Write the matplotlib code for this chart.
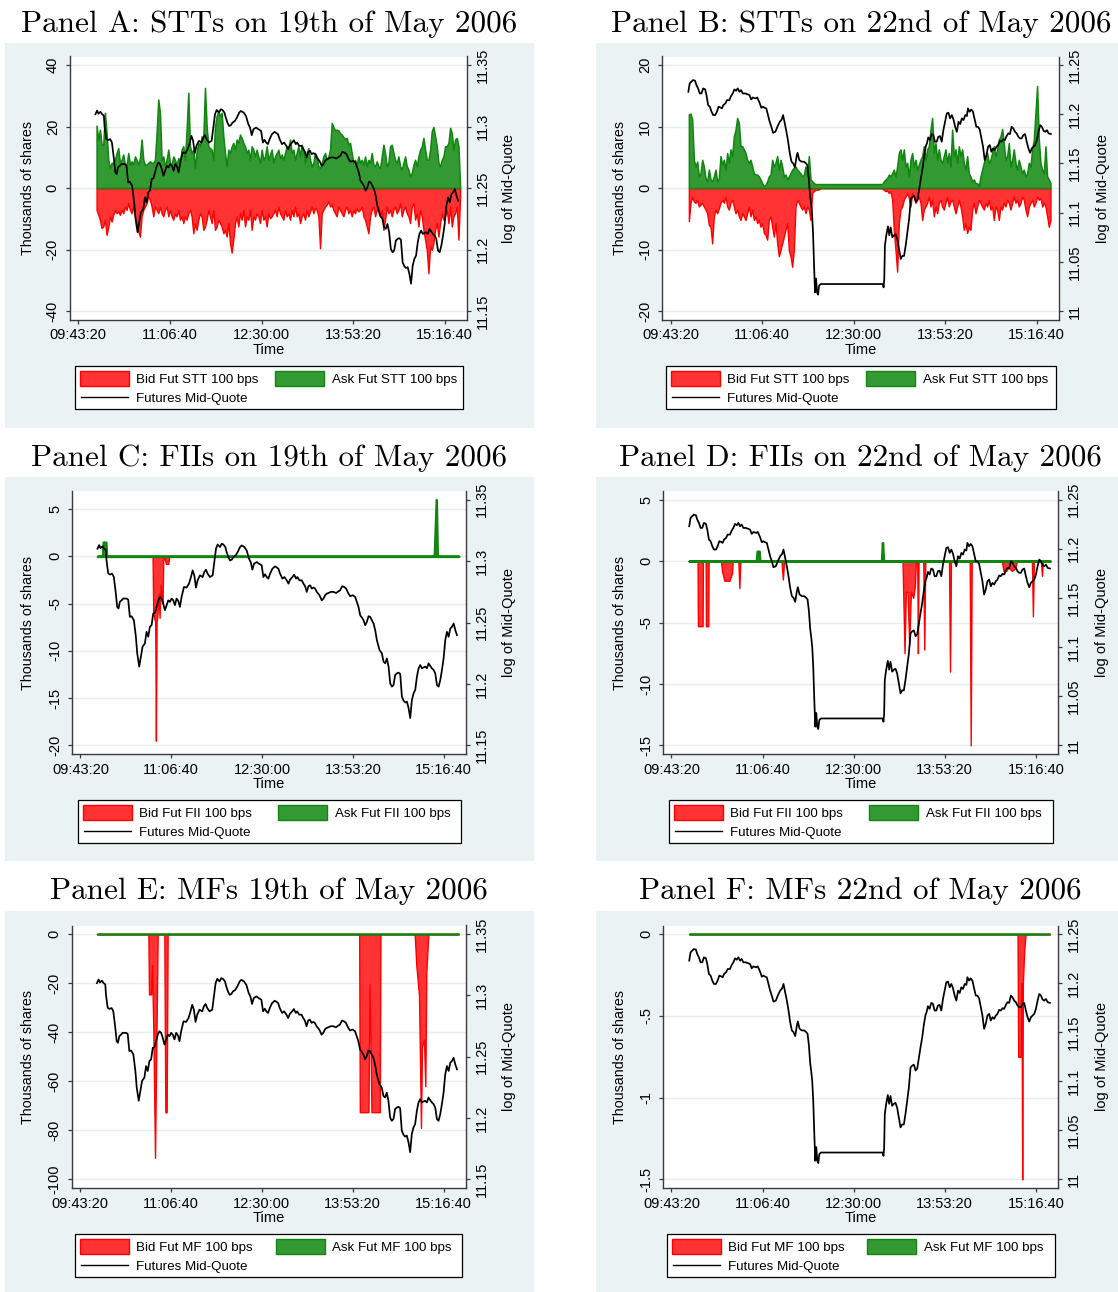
import numpy as np
import matplotlib
matplotlib.use("Agg")
import matplotlib.pyplot as plt
from matplotlib.patches import Rectangle
from matplotlib.lines import Line2D
from matplotlib.ticker import FixedLocator, FuncFormatter

plt.rcParams['axes.unicode_minus'] = False

# ---------------------------------------------------------------- data
# time = seconds after midnight; mid-quote = log of futures mid-quote
MID19_T = [35937, 36029, 36103, 36213, 36305, 36397, 36434, 36526, 36617, 36746,
           36838, 36948, 37022, 37095, 37169, 37261, 37353, 37536, 37628, 37720,
           37812, 37941, 38051, 38125, 38235, 38327, 38419, 38547, 38639, 38731,
           38823, 38915, 39007, 39099, 39191, 39283, 39374, 39466, 39558, 39650,
           39742, 39834, 39926, 40018, 40110, 40202, 40293, 40385, 40477, 40569,
           40698, 40845, 40974, 41084, 41176, 41268, 41359, 41451, 41580, 41727,
           41819, 41911, 42003, 42131, 42278, 42370, 42462, 42554, 42683, 42775,
           42867, 42977, 43050, 43142, 43234, 43326, 43418, 43547, 43657, 43786,
           43878, 44025, 44153, 44282, 44374, 44466, 44558, 44705, 44833, 44980,
           45072, 45164, 45256, 45348, 45440, 45569, 45716, 45899, 45991, 46120,
           46230, 46359, 46451, 46543, 46671, 46763, 46873, 46947, 47057, 47186,
           47278, 47370, 47462, 47554, 47645, 47737, 47829, 47921, 48013, 48160,
           48289, 48381, 48473, 48564, 48656, 48785, 48932, 49079, 49208, 49300,
           49410, 49520, 49630, 49759, 49851, 49998, 50127, 50219, 50311, 50402,
           50494, 50586, 50678, 50770, 50862, 50954, 51046, 51138, 51230, 51321,
           51468, 51597, 51689, 51781, 51873, 51965, 52057, 52149, 52240, 52332,
           52424, 52516, 52608, 52700, 52792, 52884, 52976, 53068, 53159, 53251,
           53343, 53435, 53527, 53619, 53711, 53803, 53895, 53987, 54078, 54170,
           54262, 54354, 54446, 54538, 54630, 54722, 54814, 54906, 54997, 55089,
           55181, 55273, 55365, 55457, 55549, 55641, 55733]
MID19_V = [11.310, 11.313, 11.3105, 11.312, 11.310, 11.309, 11.3005, 11.290, 11.289, 11.2897,
           11.287, 11.2735, 11.2627, 11.2614, 11.2668, 11.268, 11.2695, 11.2695, 11.2686, 11.2546,
           11.2551, 11.2519, 11.2384, 11.2249, 11.2141, 11.2222, 11.2303, 11.233, 11.2424, 11.2384,
           11.2465, 11.2478, 11.2573, 11.2578, 11.2627, 11.268, 11.2708, 11.2695, 11.2654, 11.260,
           11.2641, 11.268, 11.2668, 11.2695, 11.268, 11.2641, 11.2695, 11.2676, 11.2627, 11.2708,
           11.2789, 11.2784, 11.2816, 11.287, 11.2924, 11.2884, 11.2784, 11.2843, 11.2884, 11.287,
           11.2911, 11.293, 11.2897, 11.287, 11.2884, 11.2992, 11.310, 11.3135, 11.3114, 11.3141,
           11.3135, 11.3114, 11.3073, 11.3032, 11.3005, 11.3011, 11.3032, 11.3046, 11.3073, 11.3114,
           11.3127, 11.3114, 11.3086, 11.3019, 11.2992, 11.293, 11.2978, 11.2992, 11.2978, 11.2965,
           11.287, 11.2892, 11.287, 11.2857, 11.2897, 11.2938, 11.2957, 11.2938, 11.2897, 11.2857,
           11.287, 11.2843, 11.2816, 11.2849, 11.287, 11.2889, 11.2857, 11.287, 11.2843, 11.2843,
           11.2816, 11.2795, 11.2749, 11.2795, 11.2803, 11.2776, 11.2784, 11.2776, 11.2749, 11.2722,
           11.268, 11.2695, 11.2722, 11.2735, 11.274, 11.2749, 11.2749, 11.274, 11.2754, 11.2762,
           11.2795, 11.2789, 11.2776, 11.2735, 11.2714, 11.2722, 11.2708, 11.2668, 11.2627, 11.2559,
           11.2541, 11.2519, 11.2478, 11.2505, 11.2551, 11.2546, 11.2519, 11.2492, 11.2438, 11.2357,
           11.2276, 11.2249, 11.2181, 11.2168, 11.2208, 11.2141, 11.2005, 11.1978, 11.1992, 11.2073,
           11.2086, 11.2092, 11.2081, 11.1897, 11.1865, 11.1849, 11.1857, 11.1803, 11.1722, 11.187,
           11.1924, 11.1951, 11.2059, 11.2127, 11.2154, 11.2127, 11.2135, 11.2141, 11.2127, 11.2168,
           11.2146, 11.2127, 11.2114, 11.2086, 11.1992, 11.1978, 11.2032, 11.2114, 11.2208, 11.2357,
           11.2424, 11.2384, 11.2451, 11.2465, 11.2492, 11.2438, 11.2397]

MID22_T = [35973, 36046, 36138, 36229, 36340, 36413, 36505, 36596, 36688, 36780,
           36890, 36963, 37055, 37147, 37239, 37330, 37441, 37532, 37624, 37716,
           37808, 37881, 37991, 38083, 38211, 38303, 38395, 38487, 38578, 38670,
           38762, 38854, 38945, 39074, 39184, 39312, 39404, 39496, 39643, 39734,
           39863, 39955, 40046, 40138, 40230, 40322, 40413, 40505, 40597, 40725,
           40835, 40964, 41074, 41147, 41239, 41331, 41423, 41514, 41606, 41698,
           41790, 41881, 41936, 42028, 42157, 42285, 42395, 42468, 42542, 42615,
           42670, 42725, 42780, 42835, 42891, 42946, 43001, 43056, 43111, 43202,
           46597, 46634, 46671, 46707, 46781, 46872, 46946, 47019, 47111, 47203,
           47295, 47386, 47478, 47570, 47662, 47753, 47845, 47937, 48029, 48120,
           48212, 48304, 48396, 48487, 48579, 48671, 48763, 48854, 48946, 49001,
           49074, 49166, 49258, 49350, 49441, 49533, 49625, 49717, 49808, 49900,
           49992, 50084, 50175, 50267, 50359, 50451, 50542, 50634, 50726, 50818,
           50909, 51001, 51093, 51185, 51240, 51332, 51423, 51515, 51607, 51699,
           51790, 51882, 51974, 52066, 52157, 52249, 52341, 52433, 52524, 52616,
           52708, 52800, 52891, 52983, 53075, 53167, 53258, 53350, 53442, 53534,
           53625, 53717, 53809, 53901, 53992, 54084, 54176, 54268, 54359, 54451,
           54543, 54635, 54726, 54818, 54910, 55002, 55093, 55185, 55277, 55369,
           55460, 55552, 55644, 55772]
MID22_V = [11.2229, 11.2314, 11.2331, 11.2348, 11.2341, 11.2297, 11.2263, 11.2212, 11.2212, 11.2263,
           11.2253, 11.2195, 11.2093, 11.2077, 11.2026, 11.1992, 11.1992, 11.2026, 11.2077, 11.207,
           11.206, 11.2093, 11.211, 11.2144, 11.2144, 11.2185, 11.2212, 11.2253, 11.2239, 11.2263,
           11.2229, 11.2246, 11.2212, 11.2212, 11.2205, 11.2195, 11.2151, 11.2171, 11.2161, 11.2171,
           11.2117, 11.2066, 11.2077, 11.2066, 11.206, 11.1992, 11.1924, 11.1873, 11.1812, 11.1822,
           11.1873, 11.1924, 11.1948, 11.1992, 11.1907, 11.1822, 11.1721, 11.1602, 11.1518, 11.1501,
           11.146, 11.1568, 11.1609, 11.1535, 11.1518, 11.1518, 11.1501, 11.1484, 11.1365, 11.118,
           11.110, 11.100, 11.080, 11.048, 11.019, 11.033, 11.019, 11.0166, 11.0257, 11.0274,
           11.0274, 11.024, 11.032, 11.0666, 11.0768, 11.086, 11.077, 11.085, 11.075, 11.077,
           11.078, 11.073, 11.063, 11.053, 11.056, 11.056, 11.067, 11.080, 11.0937, 11.114,
           11.116, 11.117, 11.111, 11.113, 11.124, 11.135, 11.145, 11.158, 11.168, 11.1704,
           11.1765, 11.1738, 11.1799, 11.1789, 11.1721, 11.1721, 11.1772, 11.1778, 11.1721, 11.1839,
           11.1924, 11.2009, 11.2016, 11.1958, 11.1992, 11.1948, 11.1873, 11.1822, 11.1924, 11.190,
           11.1958, 11.1941, 11.1992, 11.1982, 11.206, 11.2026, 11.2049, 11.2026, 11.1948, 11.1873,
           11.1873, 11.1846, 11.1755, 11.167, 11.1535, 11.1585, 11.167, 11.1687, 11.1619, 11.1653,
           11.1636, 11.167, 11.1687, 11.1728, 11.1721, 11.1745, 11.1738, 11.1778, 11.1806, 11.1799,
           11.1873, 11.1856, 11.1822, 11.1806, 11.1772, 11.1755, 11.1755, 11.1789, 11.1799, 11.1721,
           11.1653, 11.1609, 11.1653, 11.167, 11.1687, 11.1738, 11.1822, 11.189, 11.1873, 11.1833,
           11.1822, 11.1839, 11.1806, 11.1799]

# STT order-book depth (thousands of shares), observed on a fixed grid
STT_GRID_START = 36000   # 10:00:00
STT_GRID_STEP = 91       # seconds between observations
STT19_ASK = [20.3, 15.8, 19.0, 14.1, 14.1, 24.5, 17.9, 9.2, 6.5, 8.2,
             8.2, 9.2, 11.4, 13.0, 8.2, 9.2, 10.9, 7.6, 7.6, 11.4,
             7.6, 8.7, 7.6, 10.3, 9.2, 7.6, 9.8, 15.8, 9.2, 7.6,
             7.6, 8.2, 8.7, 8.2, 8.2, 9.2, 17.9, 28.8, 24.5, 9.2,
             10.3, 7.1, 9.2, 12.5, 8.2, 7.6, 10.3, 9.2, 7.6, 9.8,
             8.2, 12.5, 13.6, 9.2, 19.0, 31.0, 13.6, 11.4, 12.5, 6.5,
             12.0, 14.7, 13.6, 16.8, 16.3, 32.6, 20.1, 13.6, 13.0, 12.5,
             9.2, 20.1, 23.4, 25.0, 23.4, 24.5, 16.8, 11.4, 7.1, 12.5,
             11.4, 13.6, 14.7, 12.5, 15.8, 14.7, 17.4, 16.3, 14.7, 13.6,
             11.4, 12.5, 9.2, 13.6, 12.5, 10.3, 12.5, 10.3, 8.2, 12.5,
             9.2, 10.3, 13.6, 9.2, 10.9, 12.5, 8.2, 10.3, 11.4, 12.5,
             9.8, 10.9, 9.2, 11.4, 13.6, 12.5, 15.8, 11.4, 12.5, 9.2,
             11.4, 13.6, 10.3, 14.1, 12.5, 8.2, 11.4, 13.0, 9.2, 7.1,
             8.2, 11.4, 10.3, 7.1, 6.5, 8.2, 10.3, 11.4, 9.2, 10.3,
             12.5, 21.2, 19.9, 18.8, 19.0, 18.8, 17.9, 17.4, 16.6, 16.0,
             16.3, 14.1, 14.7, 11.4, 8.2, 9.2, 7.6, 10.3, 8.2, 9.2,
             7.6, 10.3, 7.1, 9.2, 8.2, 11.4, 7.6, 7.1, 8.7, 7.1,
             6.5, 10.3, 14.1, 11.4, 7.1, 8.2, 13.6, 14.1, 11.4, 9.2,
             8.2, 10.3, 7.1, 6.0, 8.2, 10.3, 7.1, 6.0, 3.8, 4.9,
             7.6, 9.2, 7.1, 10.3, 12.5, 13.6, 16.3, 12.5, 9.2, 9.2,
             12.5, 18.5, 19.9, 16.8, 13.6, 8.2, 7.1, 9.2, 10.3, 13.6,
             13.6, 14.7, 19.6, 17.9, 12.5, 15.8, 16.3, 13.6, 0.5]
STT19_BID = [-7.1, -8.7, -10.3, -13.0, -12.5, -10.3, -15.2, -12.7, -9.2, -10.9,
             -8.7, -7.1, -8.2, -7.6, -8.7, -7.1, -8.2, -6.0, -7.1, -4.9,
             -7.1, -8.2, -6.0, -9.2, -11.4, -14.1, -15.8, -9.2, -7.1, -6.0,
             -4.9, -2.7, -3.8, -6.0, -9.2, -6.0, -7.1, -8.2, -6.0, -8.2,
             -9.2, -7.1, -6.0, -9.2, -7.1, -9.2, -10.3, -8.2, -9.2, -7.1,
             -10.3, -9.2, -11.4, -9.2, -10.3, -8.2, -7.1, -9.2, -14.7, -11.4,
             -13.6, -10.3, -8.2, -9.2, -13.6, -12.5, -10.3, -7.1, -9.2, -11.4,
             -7.1, -13.6, -12.5, -10.3, -11.4, -12.5, -14.7, -13.6, -15.8, -11.4,
             -17.9, -21.0, -16.8, -11.4, -9.2, -12.5, -8.2, -10.3, -7.1, -12.5,
             -9.2, -10.3, -7.1, -13.6, -9.2, -10.3, -8.2, -9.2, -11.4, -7.1,
             -10.3, -9.2, -12.5, -8.2, -9.8, -9.2, -8.2, -7.1, -9.2, -6.0,
             -8.2, -9.2, -10.3, -7.1, -9.2, -8.2, -10.3, -7.1, -9.2, -6.0,
             -9.2, -8.2, -11.4, -9.2, -8.2, -10.3, -7.1, -9.2, -7.6, -6.0,
             -8.2, -6.5, -7.1, -9.2, -19.6, -8.2, -7.1, -6.0, -5.4, -4.3,
             -6.0, -5.4, -7.1, -8.2, -9.2, -6.0, -7.1, -8.2, -9.2, -7.1,
             -6.0, -8.2, -7.1, -9.2, -7.1, -8.2, -6.5, -7.6, -7.1, -6.0,
             -9.2, -10.3, -12.5, -14.7, -9.2, -7.1, -6.0, -9.2, -7.1, -6.0,
             -9.2, -7.1, -13.6, -10.3, -6.0, -8.2, -7.1, -9.2, -7.1, -6.0,
             -8.2, -7.1, -4.9, -9.2, -7.1, -6.0, -8.2, -9.2, -11.4, -6.0,
             -4.9, -10.3, -8.2, -12.5, -7.1, -9.2, -13.6, -16.8, -20.1, -27.7,
             -19.0, -20.1, -17.9, -13.6, -11.4, -15.8, -11.4, -8.2, -10.3, -9.2,
             -7.1, -11.4, -6.0, -12.5, -9.2, -8.2, -6.0, -16.8, -2.7]
STT22_ASK = [12.0, 12.1, 11.1, 4.6, 3.5, 4.3, 1.9, 2.4, 4.6, 3.5,
             1.6, 1.1, 3.0, 1.4, 1.1, 1.9, 3.0, 1.1, 1.6, 5.2,
             3.8, 4.6, 3.0, 5.7, 4.1, 6.3, 5.2, 8.4, 9.5, 11.4,
             10.6, 6.8, 6.8, 6.3, 5.7, 4.6, 4.1, 4.6, 3.5, 2.4,
             2.2, 2.2, 1.9, 1.4, 0.8, 0.3, 0.5, 1.1, 1.9, 2.2,
             4.6, 3.5, 4.1, 5.2, 3.0, 4.6, 3.5, 1.9, 2.2, 1.4,
             1.9, 2.4, 3.0, 3.3, 3.5, 3.0, 2.7, 2.4, 1.9, 2.2,
             3.5, 1.9, 5.2, 1.4, 1.1, 0.8, 0.65, 0.65, 0.65, 0.65,
             0.65, 0.65, 0.65, 0.65, 0.65, 0.65, 0.65, 0.65, 0.65, 0.65,
             0.65, 0.65, 0.65, 0.65, 0.65, 0.65, 0.65, 0.65, 0.65, 0.65,
             0.65, 0.65, 0.65, 0.65, 0.65, 0.65, 0.65, 0.65, 0.65, 0.65,
             0.65, 0.65, 0.65, 0.65, 0.65, 0.65, 0.65, 1.1, 1.4, 1.6,
             2.2, 1.9, 2.4, 3.0, 1.9, 3.5, 5.7, 6.3, 4.6, 6.3,
             3.5, 4.1, 1.9, 4.6, 5.7, 3.5, 4.6, 3.0, 3.8, 4.6,
             5.2, 6.8, 4.6, 6.3, 6.8, 9.5, 11.4, 5.7, 7.3, 4.6,
             6.3, 4.6, 4.1, 5.2, 6.3, 4.1, 5.7, 3.5, 9.5, 5.2,
             6.3, 4.1, 6.8, 5.2, 6.3, 4.1, 3.0, 5.2, 2.4, 1.9,
             1.1, 1.4, 0.8, 0.8, 0.3, 1.9, 3.0, 4.1, 5.2, 5.7,
             4.1, 4.6, 5.7, 6.8, 5.2, 6.3, 7.9, 8.4, 9.6, 7.3,
             4.6, 5.2, 7.3, 3.5, 4.6, 6.3, 4.1, 3.0, 4.6, 3.5,
             2.4, 3.0, 1.9, 2.4, 4.1, 3.5, 6.3, 7.9, 12.2, 16.6,
             7.9, 4.1, 3.0, 2.4, 6.8, 1.9, 1.4, 0.8]
STT22_BID = [-5.4, -2.4, -1.4, -2.2, -2.4, -1.9, -3.0, -2.7, -2.4, -3.0,
             -3.5, -4.1, -6.0, -6.3, -9.0, -4.6, -3.5, -4.1, -3.3, -2.4,
             -1.9, -2.4, -1.4, -3.0, -3.5, -2.4, -1.9, -3.0, -4.1, -3.5,
             -4.6, -5.2, -4.1, -4.6, -5.2, -4.1, -3.0, -4.6, -3.5, -5.2,
             -4.6, -5.7, -5.2, -6.3, -5.7, -7.3, -7.6, -8.4, -5.2, -4.6,
             -6.3, -7.9, -5.7, -9.0, -11.1, -10.1, -9.0, -7.9, -6.8, -5.7,
             -10.1, -11.1, -12.8, -10.1, -3.0, -1.9, -2.4, -3.0, -3.5, -3.0,
             -4.1, -3.0, -3.5, -5.2, -0.8, -0.5, -0.3, -0.3, -0.2, 0.0,
             0.0, 0.0, 0.0, 0.0, 0.0, 0.0, 0.0, 0.0, 0.0, 0.0,
             0.0, 0.0, 0.0, 0.0, 0.0, 0.0, 0.0, 0.0, 0.0, 0.0,
             0.0, 0.0, 0.0, 0.0, 0.0, 0.0, 0.0, 0.0, 0.0, 0.0,
             0.0, 0.0, 0.0, 0.0, 0.0, 0.0, 0.0, -0.3, -0.5, -0.4,
             -0.8, -0.5, -1.9, -6.8, -10.1, -13.6, -5.7, -3.5, -3.0, -1.9,
             -1.4, -0.8, -1.6, -3.0, -0.8, -1.4, -2.4, -1.9, -1.4, -2.4,
             -5.2, -3.5, -3.0, -2.4, -1.4, -3.0, -1.9, -4.6, -3.0, -4.1,
             -2.4, -1.9, -3.0, -3.5, -2.4, -1.4, -3.0, -2.2, -1.9, -3.0,
             -4.1, -3.0, -1.9, -3.0, -4.6, -6.8, -5.7, -7.3, -6.3, -6.8,
             -3.5, -2.4, -4.1, -3.0, -1.9, -2.4, -3.0, -3.5, -2.4, -3.0,
             -1.9, -3.5, -3.0, -5.2, -3.0, -3.5, -5.2, -3.0, -3.5, -2.4,
             -3.0, -1.9, -2.4, -3.5, -2.4, -1.4, -2.4, -1.9, -3.0, -2.4,
             -1.4, -1.9, -3.5, -4.6, -3.0, -2.4, -1.9, -3.0, -2.4, -1.4,
             -1.9, -1.6, -3.0, -2.4, -3.0, -4.6, -6.3, -5.2]

# FII order-book depth (thousands of shares)
FII19_BID_T = [35937, 38970, 39007, 39062, 39117, 39154, 39191, 39246, 39301, 39356,
               39411, 39466, 39521, 39558, 39613, 39705, 39834, 39889, 55825]
FII19_BID_V = [0, 0, -6.0, -6.5, -7.0, -19.5, -7.0, -6.0, -4.0, -6.5,
               -3.0, -4.5, -5.0, -0.5, 0, -0.8, -0.8, 0, 0]
FII19_ASK_T = [35937, 36213, 36250, 36397, 36434, 54483, 54593, 54648, 55825]
FII19_ASK_V = [0, 0, 1.5, 1.5, 0, 0, 6.0, 0, 0]
FII22_BID_T = [35973, 36431, 36450, 36707, 36725, 36872, 36890, 37019, 37037,
               37716, 37771, 37899, 38028, 38175, 38321, 38358,
               38670, 38725, 38780,
               41037, 41111, 41184,
               47680, 47790, 47863, 47955, 48047, 48139, 48267, 48359, 48414,
               48487, 48524, 48561,
               48818, 48873, 48928,
               50231, 50286, 50341,
               51368, 51423, 51478,
               53130, 53222, 53368, 53497, 53680, 53864, 53956,
               54781, 54836, 54890,
               55277, 55332, 55387, 55772]
FII22_BID_V = [0, 0, -5.3, -5.3, 0, 0, -5.3, -5.3, 0,
               0, -0.8, -1.6, -1.6, -1.6, -1.0, 0,
               0, -2.2, 0,
               0, -1.5, 0,
               0, -7.5, -2.5, -2.5, -6.8, -2.5, -3.0, -2.0, 0,
               0, -7.5, 0,
               0, -7.2, 0,
               0, -9.0, 0,
               0, -15.0, 0,
               0, -0.8, -0.8, -0.5, -0.8, -0.6, 0,
               0, -4.5, 0,
               0, -1.2, 0, 0]
FII22_ASK_T = [35973, 39660, 39700, 39810, 39845, 46525, 46580, 46635, 55772]
FII22_ASK_V = [0, 0, 0.8, 0.8, 0, 0, 1.5, 0, 0]

# MF order-book depth (thousands of shares)
MF19_BID_T = [35937, 38766, 38802, 38912, 38967, 39040, 39131, 39204, 39278,
              39643, 39698, 39771, 39826,
              50355, 50392, 50867, 50922, 50977, 51032, 51489, 51525,
              53408, 53499, 53646, 53755, 53810, 53920, 53993, 54048, 54157, 55825]
MF19_BID_V = [0, 0, -24.6, -24.6, -12.6, -40, -91.2, -45, 0,
              0, -72.6, -72.6, 0,
              0, -72.6, -72.6, -20.5, -41.5, -72.6, -72.6, 0,
              0, -12.8, -25, -79, -46, -43, -62, -15.5, 0, 0]
MF19_ASK_T = [35937, 55825]
MF19_ASK_V = [0, 0]
MF22_BID_T = [35973, 53992, 54029, 54176, 54212, 54249, 54286, 54359, 54432, 55772]
MF22_BID_V = [0, 0, -0.75, -0.75, -0.3, -1.5, -0.3, -0.1, 0, 0]
MF22_ASK_T = [35973, 55772]
MF22_ASK_V = [0, 0]

X_TICKS = [35000, 40000, 45000, 50000, 55000]
X_RANGE = (34550, 56230)
RIGHT_RANGE = {19: (11.15, 11.35), 22: (11.0, 11.25)}
RIGHT_TICKS = {19: [11.15, 11.2, 11.25, 11.3, 11.35],
               22: [11.0, 11.05, 11.1, 11.15, 11.2, 11.25]}

stt_t19 = STT_GRID_START + STT_GRID_STEP * np.arange(len(STT19_ASK))
stt_t22 = STT_GRID_START + STT_GRID_STEP * np.arange(len(STT22_ASK))

PANELS = [
    dict(key='A', title='Panel A: STTs on 19th of May 2006', day=19, grp='STT',
         bid=(stt_t19, STT19_BID), ask=(stt_t19, STT19_ASK),
         lrange=(-40, 40), lticks=[-40, -20, 0, 20, 40]),
    dict(key='B', title='Panel B: STTs on 22nd of May 2006', day=22, grp='STT',
         bid=(stt_t22, STT22_BID), ask=(stt_t22, STT22_ASK),
         lrange=(-20, 20), lticks=[-20, -10, 0, 10, 20]),
    dict(key='C', title='Panel C: FIIs on 19th of May 2006', day=19, grp='FII',
         bid=(FII19_BID_T, FII19_BID_V), ask=(FII19_ASK_T, FII19_ASK_V),
         lrange=(-20, 6), lticks=[-20, -15, -10, -5, 0, 5]),
    dict(key='D', title='Panel D: FIIs on 22nd of May 2006', day=22, grp='FII',
         bid=(FII22_BID_T, FII22_BID_V), ask=(FII22_ASK_T, FII22_ASK_V),
         lrange=(-15, 5), lticks=[-15, -10, -5, 0, 5]),
    dict(key='E', title='Panel E: MFs 19th of May 2006', day=19, grp='MF',
         bid=(MF19_BID_T, MF19_BID_V), ask=(MF19_ASK_T, MF19_ASK_V),
         lrange=(-100, 0), lticks=[-100, -80, -60, -40, -20, 0]),
    dict(key='F', title='Panel F: MFs 22nd of May 2006', day=22, grp='MF',
         bid=(MF22_BID_T, MF22_BID_V), ask=(MF22_ASK_T, MF22_ASK_V),
         lrange=(-1.5, 0), lticks=[-1.5, -1, -0.5, 0]),
]
MID = {19: (MID19_T, MID19_V), 22: (MID22_T, MID22_V)}

# ---------------------------------------------------------------- layout (pixels)
W, H = 1118, 1292
LAYOUT = {
    'A': dict(ax=(70, 467.3, 56.5, 319.6), bg=(5, 534, 43.3, 427.7), base=31.7, leg=366, lw=388),
    'B': dict(ax=(662.3, 1059.3, 56.5, 319.6), bg=(595.7, 1118, 43.3, 427.7), base=31.7, leg=366, lw=390),
    'C': dict(ax=(72.3, 466, 491, 754), bg=(5, 534, 477, 861), base=465.7, leg=800, lw=383),
    'D': dict(ax=(663.3, 1058.3, 491, 754), bg=(595.7, 1118, 477, 861), base=465.7, leg=800, lw=384),
    'E': dict(ax=(71.7, 466, 925.5, 1188), bg=(5, 534, 911, 1292), base=899.3, leg=1234, lw=387),
    'F': dict(ax=(663.3, 1058.3, 925.5, 1188), bg=(595.7, 1118, 911, 1292), base=899.3, leg=1234, lw=388),
}
YLAB_LEFT_X = {0: 35, 1: 627}
YLAB_RIGHT_X = {0: 502.5, 1: 1095.5}

BG = '#EAF2F3'
GRID = '#E3ECEE'
AXC = '#3a3a3a'
RED_FILL, RED_EDGE = '#FF3333', '#FF0000'
GREEN_FILL, GREEN_EDGE = '#339933', '#108510'
GREEN_LW = {'STT': 1.1, 'FII': 1.8, 'MF': 1.8}
SANS = ['Liberation Sans', 'DejaVu Sans']
SERIF = ['cmr10', 'DejaVu Serif']
TICK_FS = 10.5
LAB_FS = 10.5
LEG_FS = 9.6
TITLE_FS = 22.4


def fx(x):
    return x / W


def fy(y):
    return 1 - y / H


def stata_num(v, pos=None):
    s = f"{v:.10g}"
    if s.startswith('-0.'):
        s = '-' + s[2:]
    elif s.startswith('0.'):
        s = s[1:]
    return s


def clock(v, pos=None):
    v = int(round(v))
    return f"{v // 3600:02d}:{(v % 3600) // 60:02d}:{v % 60:02d}"


def padded(lo, hi, frac=0.035):
    p = (hi - lo) * frac
    return lo - p, hi + p


fig = plt.figure(figsize=(W / 100, H / 100), dpi=100)
fig.patch.set_facecolor('white')

for i, P in enumerate(PANELS):
    L = LAYOUT[P['key']]
    col = i % 2
    x0, x1, y0, y1 = L['bg']
    fig.add_artist(Rectangle((fx(x0), fy(y1)), (x1 - x0) / W, (y1 - y0) / H,
                             transform=fig.transFigure, facecolor=BG,
                             edgecolor='none', zorder=-10))
    l, r, t, b = L['ax']
    ax = fig.add_axes([fx(l), fy(b), (r - l) / W, (b - t) / H])
    ax.set_facecolor('white')

    bt, bv = P['bid']
    at, av = P['ask']
    ax.fill_between(bt, bv, 0, facecolor=RED_FILL, edgecolor=RED_EDGE,
                    linewidth=1.0, zorder=2)
    ax.fill_between(at, av, 0, facecolor=GREEN_FILL, edgecolor=GREEN_EDGE,
                    linewidth=GREEN_LW[P['grp']], zorder=3)

    ax.set_xlim(*X_RANGE)
    ax.set_ylim(*padded(*P['lrange']))
    ax.xaxis.set_major_locator(FixedLocator(X_TICKS))
    ax.xaxis.set_major_formatter(FuncFormatter(clock))
    ax.yaxis.set_major_locator(FixedLocator(P['lticks']))
    ax.yaxis.set_major_formatter(FuncFormatter(stata_num))
    ax.grid(axis='y', color=GRID, linewidth=1.0)
    ax.grid(axis='x', visible=False)
    ax.set_axisbelow(True)
    for s in ('top', 'right'):
        ax.spines[s].set_visible(False)
    for s in ('left', 'bottom'):
        ax.spines[s].set_color(AXC)
        ax.spines[s].set_linewidth(1.0)
    ax.tick_params(axis='x', direction='out', length=3, width=0.9, color=AXC,
                   pad=3.2, labelsize=TICK_FS)
    ax.tick_params(axis='y', direction='out', length=3, width=0.9, color=AXC,
                   pad=4.3, labelsize=TICK_FS, labelrotation=90)
    for lab in ax.get_xticklabels() + ax.get_yticklabels():
        lab.set_fontfamily(SANS)
    plt.setp(ax.get_yticklabels(), va='center')

    ax.set_xlabel('Time', fontsize=LAB_FS, family=SANS)
    ax.xaxis.set_label_coords(0.5, -23.5 / (b - t))
    ax.set_ylabel('Thousands of shares', fontsize=LAB_FS - 0.2, family=SANS)
    ax.yaxis.set_label_coords((YLAB_LEFT_X[col] - l) / (r - l), 0.5)

    ax2 = ax.twinx()
    mt, mv = MID[P['day']]
    ax2.plot(mt, mv, color='black', linewidth=1.25, zorder=4)
    ax2.set_ylim(*padded(*RIGHT_RANGE[P['day']]))
    ax2.yaxis.set_major_locator(FixedLocator(RIGHT_TICKS[P['day']]))
    ax2.yaxis.set_major_formatter(FuncFormatter(stata_num))
    for s in ('top', 'left', 'bottom'):
        ax2.spines[s].set_visible(False)
    ax2.spines['right'].set_color(AXC)
    ax2.spines['right'].set_linewidth(1.0)
    ax2.tick_params(axis='y', direction='out', length=3, width=0.9, color=AXC,
                    pad=3.3, labelsize=TICK_FS, labelrotation=90)
    for lab in ax2.get_yticklabels():
        lab.set_fontfamily(SANS)
    plt.setp(ax2.get_yticklabels(), va='center')
    ax2.set_ylabel('log of Mid-Quote', fontsize=LAB_FS, family=SANS)
    ax2.yaxis.set_label_coords((YLAB_RIGHT_X[col] - l) / (r - l), 0.5)

    # title
    fig.text(fx((l + r) / 2), fy(L['base']), P['title'], ha='center',
             va='baseline', fontsize=TITLE_FS, family=SERIF)

    # legend
    lw_ = L['lw']
    lt = L['leg']
    ll = (l + r) / 2 - lw_ / 2
    fig.add_artist(Rectangle((fx(ll), fy(lt + 43)), lw_ / W, 43 / H,
                             transform=fig.transFigure, facecolor='white',
                             edgecolor='black', linewidth=0.9, zorder=5))
    fig.add_artist(Rectangle((fx(ll + 5), fy(lt + 19.5)), 49 / W, 14.5 / H,
                             transform=fig.transFigure, facecolor=RED_FILL,
                             edgecolor=RED_EDGE, linewidth=1.0, zorder=6))
    fig.add_artist(Rectangle((fx(ll + 200.5), fy(lt + 19.5)), 49 / W, 14.5 / H,
                             transform=fig.transFigure, facecolor=GREEN_FILL,
                             edgecolor=GREEN_EDGE, linewidth=1.0, zorder=6))
    fig.add_artist(Line2D([fx(ll + 6), fx(ll + 53)], [fy(lt + 30.7), fy(lt + 30.7)],
                          transform=fig.transFigure, color='black',
                          linewidth=1.0, zorder=6))
    grp = P['grp']
    fig.text(fx(ll + 61), fy(lt + 16.8), f'Bid Fut {grp} 100 bps',
             fontsize=LEG_FS, family=SANS, va='baseline', zorder=7)
    fig.text(fx(ll + 257), fy(lt + 16.8), f'Ask Fut {grp} 100 bps',
             fontsize=LEG_FS, family=SANS, va='baseline', zorder=7)
    fig.text(fx(ll + 61), fy(lt + 35.8), 'Futures Mid-Quote',
             fontsize=LEG_FS, family=SANS, va='baseline', zorder=7)

fig.savefig('out.png', dpi=100, facecolor='white')
